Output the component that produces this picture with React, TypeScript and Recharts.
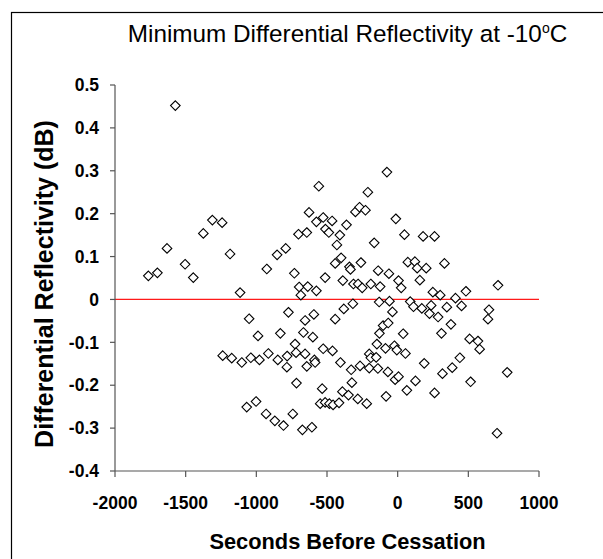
import React from 'react';
import {
  ScatterChart,
  Scatter,
  XAxis,
  YAxis,
  ReferenceLine,
  Customized,
} from 'recharts';

// Seconds before cessation (x) and minimum ZDR in dB (y)
const secondsBefore: number[] = [
  -1764, -1700, -1632, -1573, -1504, -1446, -1375, -1311, -1242, -1186, -1115,
  -926, -853, -792, -731, -702, -697, -685, -643, -636, -627, -575, -575, -558,
  -527, -511, -487, -464, -513, -442, -430, -409, -400,
  -76, -211, -362, -299, -270, -228, -166, -13, 48, 180, 261, -341, -334, -260,
  -138, -62, 72, 122, 138, 202, 331, -388, -313, -280, -251, -190, -124, 6, 25,
  157, 249, 301, 409, 483, 710,
  -1051, -988, -1238, -1174, -1103, -1039, -978, -915, -848, -784, -782, -773,
  -830, -726, -719, -655, -655, -667, -593, -600, -643, -589, -584, -527, -461,
  -442, -405, -716, -534, -1068, -1002, -931, -869, -808, -742, -674, -607,
  -548, -513, -483, -457, -415,
  -131, -58, -37, 89, 112, 171, 225, 237, 286, 348, 452, 646, 639, -381, -317,
  -103, -67, -129, 39, 310, 377, 509, 568, 580, -329, -266, -201, -190, -147,
  -152, -201, -140, -86, -23, -6, 55, -69, -18, 6, 188, 440, 386, 317, 126, 65,
  261, 516, 775, -324, -391, -348, -282, -219, -82, 703,
];

const minZdr: number[] = [
  0.055, 0.062, 0.119, 0.452, 0.082, 0.051, 0.154, 0.185, 0.179, 0.106, 0.016,
  0.071, 0.104, 0.119, 0.061, 0.152, 0.029, 0.010, 0.156, 0.030, 0.203, 0.181, 0.020, 0.264,
  0.191, 0.164, 0.156, 0.183, 0.051, 0.084, 0.127, 0.150, 0.097,
  0.297, 0.250, 0.174, 0.204, 0.215, 0.208, 0.132, 0.188, 0.151, 0.147, 0.147, 0.076, 0.070, 0.086,
  0.067, 0.060, 0.087, 0.088, 0.073, 0.073, 0.084, 0.044, 0.036, 0.036, 0.027, 0.036, 0.030, 0.044, 0.027,
  0.045, 0.017, 0.010, 0.003, 0.019, 0.033,
  -0.045, -0.085, -0.131, -0.137, -0.147, -0.136, -0.141, -0.126, -0.141, -0.158, -0.132, -0.030,
  -0.079, -0.104, -0.124, -0.127, -0.049, -0.077, -0.035, -0.088, -0.156, -0.141, -0.147, -0.115, -0.120,
  -0.046, -0.147, -0.195, -0.208, -0.251, -0.238, -0.267, -0.283, -0.294, -0.267, -0.304, -0.298,
  -0.243, -0.240, -0.243, -0.246, -0.241,
  -0.006, -0.004, -0.029, -0.005, -0.017, -0.021, -0.033, -0.014, -0.041, -0.018, -0.015, -0.024, -0.046, -0.022, -0.010,
  -0.061, -0.055, -0.079, -0.080, -0.079, -0.058, -0.092, -0.097, -0.116, -0.164, -0.155, -0.127, -0.136, -0.104,
  -0.135, -0.160, -0.161, -0.114, -0.108, -0.118, -0.126, -0.169, -0.187, -0.180, -0.149, -0.136, -0.159, -0.173, -0.190, -0.212,
  -0.218, -0.192, -0.170, -0.194, -0.215, -0.223, -0.232, -0.243, -0.226, -0.312,
];

const xTicks: number[] = [-2000, -1500, -1000, -500, 0, 500, 1000];
const yTicks: number[] = [-0.4, -0.3, -0.2, -0.1, 0, 0.1, 0.2, 0.3, 0.4, 0.5];

const chartTitle = 'Minimum Differential Reflectivity at -10';
const xTitle = 'Seconds Before Cessation';
const yTitle = 'Differential Reflectivity (dB)';

const data = secondsBefore.map((x, i) => ({ x, y: minZdr[i] }));

const FONT = '"Liberation Sans", Arial, Helvetica, sans-serif';
const AXIS_COLOR = '#555';

const Diamond = (props: any) => {
  const { cx, cy } = props;
  if (cx == null || cy == null) return null;
  const r = 4.8;
  return (
    <path
      d={`M${cx},${cy - r}L${cx + r},${cy}L${cx},${cy + r}L${cx - r},${cy}Z`}
      fill="#fff"
      stroke="#000"
      strokeWidth={1.1}
    />
  );
};

const Decorations = () => (
  <g>
    <rect x={11.5} y={12.5} width={700} height={700} fill="none" stroke="#000" strokeWidth={1.2} />
    <text x={347.5} y={42} textAnchor="middle" fontFamily={FONT} fontSize={24.3} fill="#000">
      {chartTitle}
      <tspan dy={-9} fontSize={14}>o</tspan>
      <tspan dy={9}>C</tspan>
    </text>
    <text
      x={347.5}
      y={549}
      textAnchor="middle"
      fontFamily={FONT}
      fontSize={21.8}
      fontWeight="bold"
      fill="#000"
    >
      {xTitle}
    </text>
    <text
      x={53}
      y={284}
      transform="rotate(-90, 53, 284)"
      textAnchor="middle"
      fontFamily={FONT}
      fontSize={25}
      fontWeight="bold"
      fill="#000"
    >
      {yTitle}
    </text>
  </g>
);

export default function App() {
  return (
    <div style={{ position: 'absolute', left: 0, top: 0, width: 603, height: 559, background: '#fff' }}>
      <ScatterChart
        width={603}
        height={559}
        margin={{ top: 85, right: 64, left: 0, bottom: 0 }}
      >
        <XAxis
          type="number"
          dataKey="x"
          domain={[-2000, 1000]}
          ticks={xTicks}
          interval={0}
          height={88}
          tickSize={6}
          tickMargin={20}
          axisLine={{ stroke: AXIS_COLOR, strokeWidth: 1.2 }}
          tickLine={{ stroke: AXIS_COLOR, strokeWidth: 1.2 }}
          tick={{ fill: '#000', fontSize: 17.5, fontWeight: 'bold', fontFamily: FONT }}
          allowDataOverflow
        />
        <YAxis
          type="number"
          dataKey="y"
          domain={[-0.4, 0.5]}
          ticks={yTicks}
          interval={0}
          width={115}
          tickSize={5}
          tickMargin={11}
          axisLine={{ stroke: AXIS_COLOR, strokeWidth: 1.2 }}
          tickLine={{ stroke: AXIS_COLOR, strokeWidth: 1.2 }}
          tick={{ fill: '#000', fontSize: 17.5, fontWeight: 'bold', fontFamily: FONT }}
          tickFormatter={(v: number) => String(v)}
          allowDataOverflow
        />
        <ReferenceLine y={0} stroke="#ff1a1a" strokeWidth={1.3} />
        <Scatter data={data} shape={Diamond} isAnimationActive={false} />
        <Customized component={Decorations} />
      </ScatterChart>
    </div>
  );
}
